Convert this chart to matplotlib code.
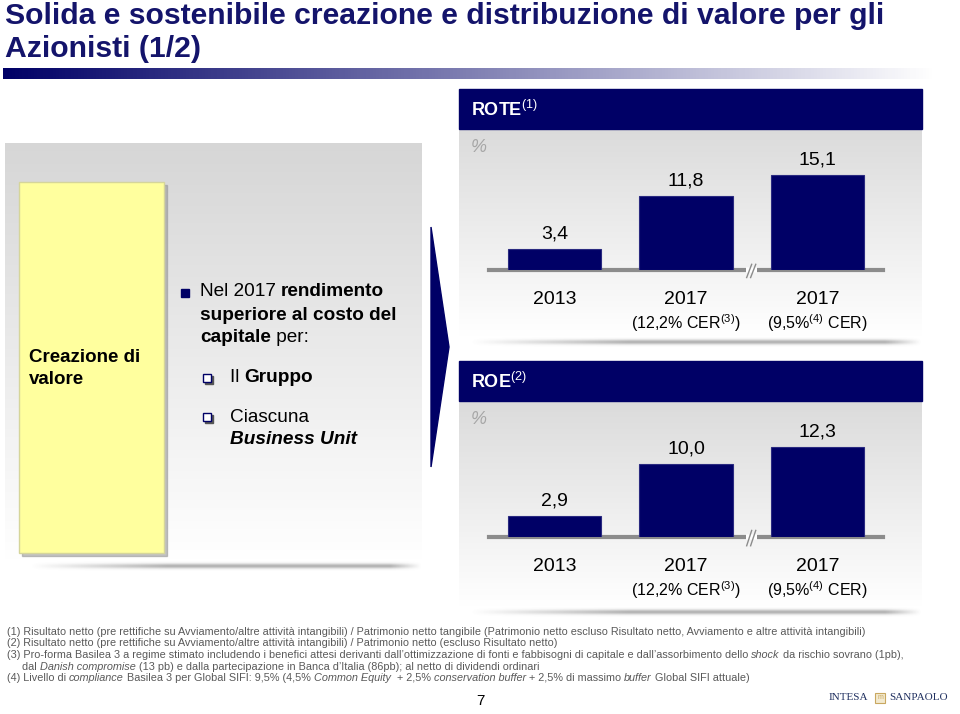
import numpy as np
import matplotlib
matplotlib.use("Agg")
import matplotlib.pyplot as plt
from matplotlib.patches import Rectangle, Polygon

plt.rcParams['font.family'] = ['Liberation Sans', 'DejaVu Sans']
plt.rcParams['mathtext.fontset'] = 'custom'
plt.rcParams['mathtext.rm'] = 'Liberation Sans'
plt.rcParams['mathtext.it'] = 'Liberation Sans:italic'
plt.rcParams['mathtext.bf'] = 'Liberation Sans:bold'

# data
categories = ['2013', '2017', '2017']
subtitles = ['', '(12,2% CER$^{(3)}$)', '(9,5%$^{(4)}$ CER)']
rote = [3.4, 11.8, 15.1]
roe = [2.9, 10.0, 12.3]

title_lines = ['Solida e sostenibile creazione e distribuzione di valore per gli',
               'Azionisti (1/2)']

footnotes = [
    [('(1) Risultato netto (pre rettifiche su Avviamento/altre attività intangibili) / Patrimonio netto tangibile '
      '(Patrimonio netto escluso Risultato netto, Avviamento e altre attività intangibili)', 'normal')],
    [('(2) Risultato netto (pre rettifiche su Avviamento/altre attività intangibili) / Patrimonio netto (escluso Risultato netto)', 'normal')],
    [('(3) Pro-forma Basilea 3 a regime stimato includendo i benefici attesi derivanti dall\u2019ottimizzazione di fonti e '
      'fabbisogni di capitale e dall\u2019assorbimento dello ', 'normal'), ('shock', 'italic'),
     (' da rischio sovrano (1pb),', 'normal')],
    [('dal ', 'normal'), ('Danish compromise', 'italic'),
     (' (13 pb) e dalla partecipazione in Banca d\u2019Italia (86pb); al netto di dividendi ordinari', 'normal')],
    [('(4) Livello di ', 'normal'), ('compliance', 'italic'), (' Basilea 3 per Global SIFI: 9,5% (4,5% ', 'normal'),
     ('Common Equity', 'italic'), ('  + 2,5% ', 'normal'), ('conservation buffer', 'italic'),
     (' + 2,5% di massimo ', 'normal'), ('buffer', 'italic'), (' Global SIFI attuale)', 'normal')],
]

NAVY = '#000066'
W, H = 960, 714

fig = plt.figure(figsize=(W / 100, H / 100), dpi=100)
bg = fig.add_axes([0, 0, 1, 1])
bg.set_xlim(0, W)
bg.set_ylim(H, 0)
bg.axis('off')
bg.set_zorder(0)
renderer = fig.canvas.get_renderer()


def rich(x, y, pieces, size, color='black'):
    for s, weight, style in pieces:
        t = bg.text(x, y, s, fontsize=size, weight=weight, style=style,
                    color=color, va='center', ha='left', zorder=10)
        x += t.get_window_extent(renderer).width
    return x


def vgrad(x0, x1, y0, y1, top, bottom):
    col = np.linspace(top, bottom, 100)[:, None, None] * np.ones((1, 2, 3))
    bg.imshow(col, extent=(x0, x1, y1, y0), origin='upper', aspect='auto', zorder=1)


def shadow(x0, x1, yc, h=10):
    xs = np.linspace(0, 1, 300)
    hor = np.clip(np.minimum(xs / 0.35, (1 - xs) / 0.08), 0, 1)
    ver = np.exp(-np.linspace(-2, 2, 30) ** 2)
    alpha = ver[:, None] * hor[None, :] * 0.55
    img = np.zeros((30, 300, 4))
    img[..., :3] = 0.45
    img[..., 3] = alpha
    bg.imshow(img, extent=(x0, x1, yc + h / 2, yc - h / 2), origin='upper', aspect='auto', zorder=1)


# title
bg.text(5, 24, title_lines[0], fontsize=21.7, weight='bold', color='#14146b', va='baseline')
bg.text(5, 57, title_lines[1], fontsize=21.7, weight='bold', color='#14146b', va='baseline')
bar = np.linspace(0, 1, 300)
rgb = np.stack([bar * 1.0, bar * 1.0, 0.4 + bar * 0.6], axis=-1)[None, :, :]
bg.imshow(rgb, extent=(3, 935, 79, 68), origin='upper', aspect='auto', zorder=1)

# left panel
vgrad(5, 422, 143, 563, 0.84, 1.0)
shadow(30, 422, 566)
bg.add_patch(Rectangle((22, 185), 145, 371, color='#9a9a9a', alpha=0.6, zorder=2))
bg.add_patch(Rectangle((19, 182), 145, 371, facecolor='#ffff9e', edgecolor='#d5d59a', lw=1, zorder=3))
bg.text(29, 358, 'Creazione di', fontsize=13.5, weight='bold', va='center')
bg.text(29, 380, 'valore', fontsize=13.5, weight='bold', va='center')

fs = 13.7
bg.add_patch(Rectangle((181, 289), 8, 8, color=NAVY, zorder=5))
rich(200, 292, [('Nel 2017 ', 'normal', 'normal'), ('rendimento', 'bold', 'normal')], fs)
rich(200, 315, [('superiore al costo del', 'bold', 'normal')], fs)
rich(200, 338, [('capitale', 'bold', 'normal'), (' per:', 'normal', 'normal')], fs)
for yy in (378, 417):
    bg.add_patch(Rectangle((205, yy - 2), 8, 8, color='#555555', zorder=5))
    bg.add_patch(Rectangle((203, yy - 4), 8, 8, facecolor='white', edgecolor=NAVY, lw=1, zorder=6))
rich(230, 378, [('Il ', 'normal', 'normal'), ('Gruppo', 'bold', 'normal')], fs)
rich(230, 417, [('Ciascuna', 'normal', 'normal')], fs)
rich(230, 439, [('Business Unit', 'bold', 'italic')], fs)

bg.add_patch(Polygon([(431, 227), (449, 347), (431, 467)], closed=True, color=NAVY, zorder=5))

# right panels
panels = [
    dict(top=89, bottom=337, title='ROTE', sup='(1)', values=rote, base=270, height=126),
    dict(top=361, bottom=607, title='ROE', sup='(2)', values=roe, base=537, height=146),
]
for p in panels:
    vgrad(459, 922, p['top'] + 40, p['bottom'], 0.86, 1.0)
    shadow(470, 922, p['bottom'] + 5)
    bg.add_patch(Rectangle((459, p['top']), 463, 40, color=NAVY, zorder=3))
    bg.text(471, p['top'] + 21, p['title'] + '$^{' + p['sup'] + '}$', fontsize=13, weight='bold',
            color='white', va='center', zorder=4)
    bg.text(471, p['top'] + 58, '%', fontsize=13, color='#a6a6a6', va='center', style='italic')

    ax = fig.add_axes([489 / W, (H - p['base']) / H, (883 - 489) / W, p['height'] / H])
    ax.patch.set_alpha(0)
    ax.set_zorder(2)
    x = np.arange(len(p['values']))
    ax.bar(x, p['values'], width=0.71, color=NAVY, edgecolor='#2a2a80', lw=0.8, zorder=3)
    ax.set_xlim(-0.5, 2.5)
    ax.set_ylim(0, 20)
    for s in ('top', 'left', 'right'):
        ax.spines[s].set_visible(False)
    ax.spines['bottom'].set_color('#8c8c8c')
    ax.spines['bottom'].set_linewidth(3)
    ax.set_xticks([])
    ax.set_yticks([])
    for i, v in enumerate(p['values']):
        ax.annotate(f'{v:.1f}'.replace('.', ','), (i, v), xytext=(0, 4.5), textcoords='offset points',
                    ha='center', va='bottom', fontsize=14)
        ax.annotate(categories[i], (i, 0), xytext=(0, -21.5), textcoords='offset points',
                    ha='center', va='center', fontsize=14, annotation_clip=False)
        if subtitles[i]:
            ax.annotate(subtitles[i], (i, 0), xytext=(0, -38), textcoords='offset points',
                        ha='center', va='center', fontsize=11.5, annotation_clip=False)
    # axis break
    ax.plot([1.46, 1.54], [0, 0], color='white', lw=4, zorder=4, clip_on=False, solid_capstyle='butt')
    ax.plot([1.462, 1.50], [-1.2, 0.9], color='#8c8c8c', lw=1, zorder=5, clip_on=False)
    ax.plot([1.492, 1.531], [-1.2, 0.9], color='#8c8c8c', lw=1, zorder=5, clip_on=False)

# footnotes
fy = [632, 643.5, 655, 666.5, 678]
for i, line in enumerate(footnotes):
    x0 = 22 if i == 3 else 7
    rich(x0, fy[i], [(s, 'normal', st) for s, st in line], 7.8, color='#595959')

bg.text(480, 701, '7', fontsize=11, ha='center', va='center')
bg.text(868, 698, 'INTESA', fontsize=8, family='Liberation Serif', color='#1f2f5f', ha='right', va='center')
bg.add_patch(Rectangle((875, 692.5), 10, 10, facecolor='#f3ead0', edgecolor='#c9a860', lw=0.8, zorder=5))
bg.text(880, 697.5, 'm', fontsize=5, color='#c9a860', ha='center', va='center', zorder=6)
bg.text(889, 698, 'SANPAOLO', fontsize=8, family='Liberation Serif', color='#1f2f5f', ha='left', va='center')

fig.savefig('out.png', dpi=100)
